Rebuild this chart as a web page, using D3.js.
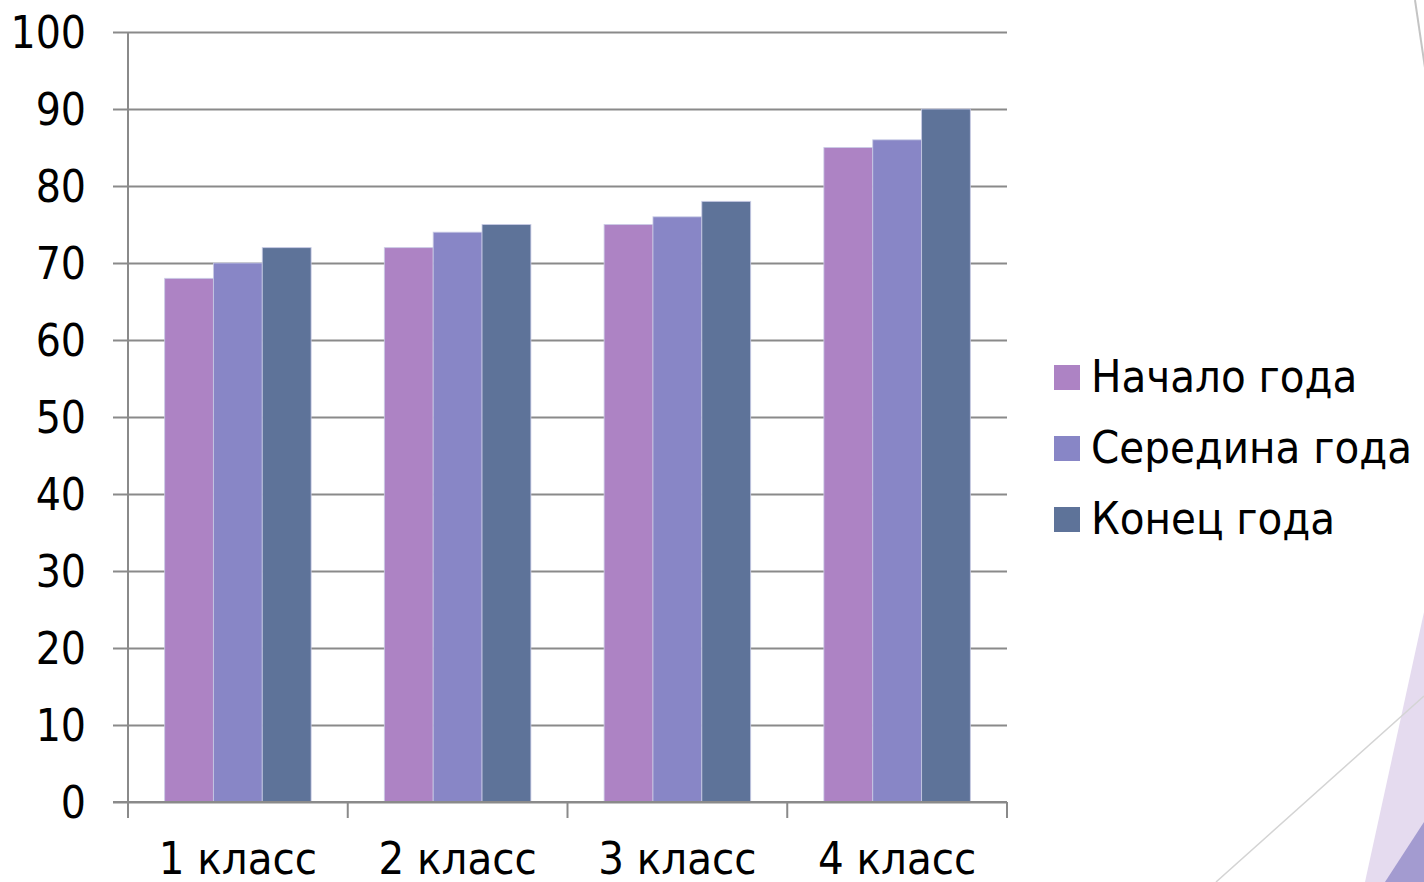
<!DOCTYPE html>
<html>
<head>
<meta charset="utf-8">
<script src="https://cdn.jsdelivr.net/npm/d3@7"></script>
<style>
  html, body { margin: 0; padding: 0; background: #fff; }
  svg { display: block; }
  text { font-family: "DejaVu Sans Condensed", "DejaVu Sans", sans-serif; fill: #000; }
</style>
</head>
<body>
<svg id="chart" width="1424" height="882"></svg>
<script>
// Chart data
const categories = ["1 класс", "2 класс", "3 класс", "4 класс"];
const seriesNames = ["Начало года", "Середина года", "Конец года"];
const startValues = [68, 72, 75, 85];
const middleValues = [70, 74, 76, 86];
const endValues = [72, 75, 78, 90];
const yTicks = [0, 10, 20, 30, 40, 50, 60, 70, 80, 90, 100];
const seriesColors = ["#ad83c4", "#8886c6", "#5e7399"];

const seriesValues = [startValues, middleValues, endValues];

const svg = d3.select("#chart");
const plot = { left: 128, right: 1007, top: 32, bottom: 802 };
const stub = 15;
const axisColor = "#8a8a8a";

// Slide decoration in the corners
const deco = svg.append("g");
deco.append("path")
  .attr("d", d3.line()([[1424, 612], [1365, 882], [1424, 882]]) + "Z")
  .attr("fill", "#e5dbef");
deco.append("path")
  .attr("d", d3.line()([[1424, 822], [1385, 882], [1424, 882]]) + "Z")
  .attr("fill", "#a39bd0");
deco.append("line")
  .attr("x1", 1216).attr("y1", 882).attr("x2", 1424).attr("y2", 696)
  .attr("stroke", "#d4d4d4").attr("stroke-width", 1.5);
deco.append("line")
  .attr("x1", 1415).attr("y1", 0).attr("x2", 1425).attr("y2", 68)
  .attr("stroke", "#c4c4c4").attr("stroke-width", 2);

// Scales
const x = d3.scaleBand()
  .domain(categories)
  .range([plot.left, plot.right])
  .paddingInner(0).paddingOuter(0);

const xInner = d3.scaleBand()
  .domain(d3.range(seriesNames.length))
  .range([0, x.bandwidth()])
  .paddingInner(0).paddingOuter(0.75);

const y = d3.scaleLinear()
  .domain([0, 100])
  .range([plot.bottom, plot.top]);

// Horizontal gridlines, starting at the left tick stub
const yAxis = d3.axisRight(y)
  .tickValues(yTicks)
  .tickSize(plot.right - plot.left + stub)
  .tickFormat("");
const gy = svg.append("g")
  .attr("transform", `translate(${plot.left - stub},0)`);
gy.call(yAxis);
gy.select(".domain").remove();
gy.selectAll(".tick line")
  .attr("stroke", axisColor).attr("stroke-width", 2);

// Y tick labels
svg.append("g").selectAll("text")
  .data(yTicks)
  .join("text")
  .attr("x", 86)
  .attr("y", d => y(d))
  .attr("dy", "0.36em")
  .attr("text-anchor", "end")
  .attr("font-size", 44)
  .text(d => d);

// Vertical axis line
svg.append("line")
  .attr("x1", plot.left).attr("x2", plot.left)
  .attr("y1", plot.top).attr("y2", plot.bottom)
  .attr("stroke", axisColor).attr("stroke-width", 2);

// Bars
const groups = svg.append("g").selectAll("g")
  .data(categories)
  .join("g")
  .attr("transform", d => `translate(${x(d)},0)`);

groups.selectAll("rect")
  .data((c, ci) => seriesValues.map((vals, si) => ({ si, v: vals[ci] })))
  .join("rect")
  .attr("x", d => xInner(d.si))
  .attr("width", xInner.bandwidth())
  .attr("y", d => y(d.v))
  .attr("height", d => y(0) - y(d.v))
  .attr("fill", d => seriesColors[d.si])
  .attr("stroke", "#c9cce6")
  .attr("stroke-width", 1)
  .attr("stroke-opacity", 0.8);

// Bottom axis line with category boundary ticks
const gx = svg.append("g").attr("transform", `translate(0,${plot.bottom})`);
gx.append("line")
  .attr("x1", plot.left - stub).attr("x2", plot.right)
  .attr("y1", 0).attr("y2", 0)
  .attr("stroke", axisColor).attr("stroke-width", 2);
const edges = categories.map(c => x(c)).concat([plot.right]);
gx.selectAll("line.edge")
  .data(edges)
  .join("line")
  .attr("class", "edge")
  .attr("x1", d => d).attr("x2", d => d)
  .attr("y1", 0).attr("y2", 16)
  .attr("stroke", axisColor).attr("stroke-width", 2);

// Category labels
svg.append("g").selectAll("text")
  .data(categories)
  .join("text")
  .attr("x", d => x(d) + x.bandwidth() / 2)
  .attr("y", 874)
  .attr("text-anchor", "middle")
  .attr("font-size", 45)
  .text(d => d);

// Legend
const legend = svg.append("g").attr("transform", "translate(1054,365)");
const items = legend.selectAll("g")
  .data(seriesNames)
  .join("g")
  .attr("transform", (d, i) => `translate(0,${i * 71})`);
items.append("rect")
  .attr("width", 26).attr("height", 25)
  .attr("fill", (d, i) => seriesColors[i]);
items.append("text")
  .attr("x", 37).attr("y", 27)
  .attr("font-size", 45)
  .text(d => d);
</script>
</body>
</html>
